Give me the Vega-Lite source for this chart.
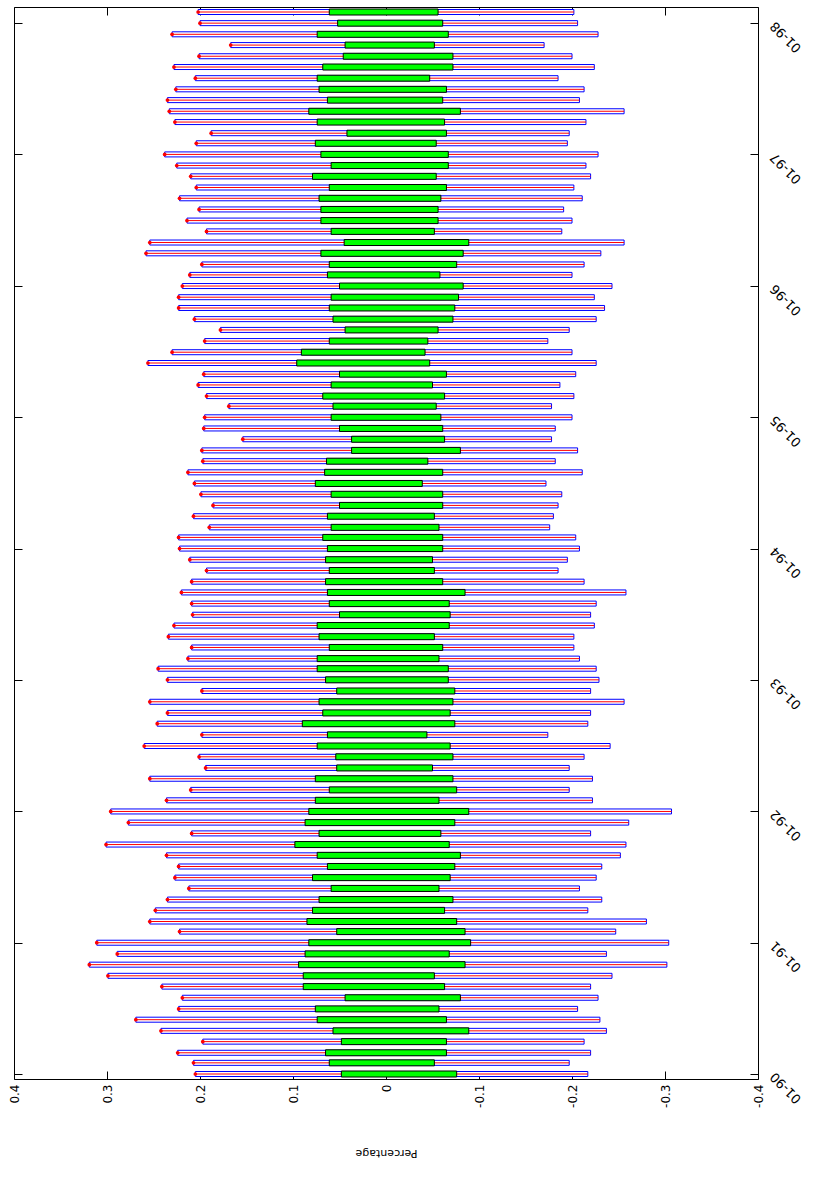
{
  "$schema": "https://vega.github.io/schema/vega-lite/v6.json",
  "width": 744,
  "height": 1072,
  "autosize": "none",
  "padding": {"left": 14, "top": 7, "right": 69, "bottom": 112},
  "background": "white",
  "config": {
    "view": {"stroke": "black", "strokeWidth": 1},
    "axis": {
      "labelFont": "DejaVu Sans",
      "titleFont": "DejaVu Sans",
      "labelColor": "black",
      "titleColor": "black",
      "tickColor": "black",
      "tickWidth": 1,
      "domain": false,
      "grid": false
    }
  },
  "data": {
    "values": [
      {"month": "1990-01-01", "hi": 0.205, "lo": -0.217, "ghi": 0.048, "glo": -0.076},
      {"month": "1990-02-01", "hi": 0.207, "lo": -0.197, "ghi": 0.061, "glo": -0.052},
      {"month": "1990-03-01", "hi": 0.224, "lo": -0.220, "ghi": 0.065, "glo": -0.065},
      {"month": "1990-04-01", "hi": 0.197, "lo": -0.213, "ghi": 0.048, "glo": -0.065},
      {"month": "1990-05-01", "hi": 0.242, "lo": -0.237, "ghi": 0.057, "glo": -0.089},
      {"month": "1990-06-01", "hi": 0.269, "lo": -0.230, "ghi": 0.074, "glo": -0.065},
      {"month": "1990-07-01", "hi": 0.223, "lo": -0.206, "ghi": 0.076, "glo": -0.057},
      {"month": "1990-08-01", "hi": 0.219, "lo": -0.228, "ghi": 0.044, "glo": -0.080},
      {"month": "1990-09-01", "hi": 0.241, "lo": -0.220, "ghi": 0.089, "glo": -0.063},
      {"month": "1990-10-01", "hi": 0.299, "lo": -0.243, "ghi": 0.089, "glo": -0.052},
      {"month": "1990-11-01", "hi": 0.319, "lo": -0.302, "ghi": 0.094, "glo": -0.085},
      {"month": "1990-12-01", "hi": 0.289, "lo": -0.237, "ghi": 0.087, "glo": -0.068},
      {"month": "1991-01-01", "hi": 0.311, "lo": -0.304, "ghi": 0.083, "glo": -0.091},
      {"month": "1991-02-01", "hi": 0.222, "lo": -0.247, "ghi": 0.053, "glo": -0.085},
      {"month": "1991-03-01", "hi": 0.254, "lo": -0.280, "ghi": 0.085, "glo": -0.076},
      {"month": "1991-04-01", "hi": 0.248, "lo": -0.217, "ghi": 0.079, "glo": -0.063},
      {"month": "1991-05-01", "hi": 0.235, "lo": -0.232, "ghi": 0.072, "glo": -0.072},
      {"month": "1991-06-01", "hi": 0.212, "lo": -0.208, "ghi": 0.059, "glo": -0.057},
      {"month": "1991-07-01", "hi": 0.227, "lo": -0.226, "ghi": 0.079, "glo": -0.069},
      {"month": "1991-08-01", "hi": 0.223, "lo": -0.232, "ghi": 0.063, "glo": -0.074},
      {"month": "1991-09-01", "hi": 0.236, "lo": -0.252, "ghi": 0.074, "glo": -0.080},
      {"month": "1991-10-01", "hi": 0.301, "lo": -0.258, "ghi": 0.098, "glo": -0.068},
      {"month": "1991-11-01", "hi": 0.209, "lo": -0.220, "ghi": 0.072, "glo": -0.059},
      {"month": "1991-12-01", "hi": 0.277, "lo": -0.261, "ghi": 0.087, "glo": -0.074},
      {"month": "1992-01-01", "hi": 0.296, "lo": -0.307, "ghi": 0.083, "glo": -0.089},
      {"month": "1992-02-01", "hi": 0.236, "lo": -0.222, "ghi": 0.076, "glo": -0.057},
      {"month": "1992-03-01", "hi": 0.210, "lo": -0.197, "ghi": 0.061, "glo": -0.076},
      {"month": "1992-04-01", "hi": 0.254, "lo": -0.222, "ghi": 0.076, "glo": -0.072},
      {"month": "1992-05-01", "hi": 0.194, "lo": -0.197, "ghi": 0.053, "glo": -0.050},
      {"month": "1992-06-01", "hi": 0.201, "lo": -0.213, "ghi": 0.054, "glo": -0.072},
      {"month": "1992-07-01", "hi": 0.260, "lo": -0.241, "ghi": 0.074, "glo": -0.069},
      {"month": "1992-08-01", "hi": 0.198, "lo": -0.174, "ghi": 0.063, "glo": -0.044},
      {"month": "1992-09-01", "hi": 0.246, "lo": -0.217, "ghi": 0.090, "glo": -0.074},
      {"month": "1992-10-01", "hi": 0.235, "lo": -0.220, "ghi": 0.068, "glo": -0.069},
      {"month": "1992-11-01", "hi": 0.254, "lo": -0.256, "ghi": 0.072, "glo": -0.072},
      {"month": "1992-12-01", "hi": 0.198, "lo": -0.220, "ghi": 0.053, "glo": -0.074},
      {"month": "1993-01-01", "hi": 0.235, "lo": -0.229, "ghi": 0.065, "glo": -0.067},
      {"month": "1993-02-01", "hi": 0.245, "lo": -0.226, "ghi": 0.074, "glo": -0.067},
      {"month": "1993-03-01", "hi": 0.213, "lo": -0.208, "ghi": 0.074, "glo": -0.057},
      {"month": "1993-04-01", "hi": 0.209, "lo": -0.202, "ghi": 0.061, "glo": -0.061},
      {"month": "1993-05-01", "hi": 0.234, "lo": -0.202, "ghi": 0.072, "glo": -0.052},
      {"month": "1993-06-01", "hi": 0.228, "lo": -0.224, "ghi": 0.074, "glo": -0.068},
      {"month": "1993-07-01", "hi": 0.208, "lo": -0.220, "ghi": 0.050, "glo": -0.069},
      {"month": "1993-08-01", "hi": 0.209, "lo": -0.226, "ghi": 0.061, "glo": -0.068},
      {"month": "1993-09-01", "hi": 0.220, "lo": -0.258, "ghi": 0.063, "glo": -0.085},
      {"month": "1993-10-01", "hi": 0.209, "lo": -0.213, "ghi": 0.065, "glo": -0.061},
      {"month": "1993-11-01", "hi": 0.193, "lo": -0.185, "ghi": 0.061, "glo": -0.052},
      {"month": "1993-12-01", "hi": 0.211, "lo": -0.195, "ghi": 0.065, "glo": -0.050},
      {"month": "1994-01-01", "hi": 0.222, "lo": -0.208, "ghi": 0.063, "glo": -0.061},
      {"month": "1994-02-01", "hi": 0.223, "lo": -0.204, "ghi": 0.068, "glo": -0.061},
      {"month": "1994-03-01", "hi": 0.190, "lo": -0.176, "ghi": 0.059, "glo": -0.057},
      {"month": "1994-04-01", "hi": 0.207, "lo": -0.180, "ghi": 0.063, "glo": -0.052},
      {"month": "1994-05-01", "hi": 0.186, "lo": -0.185, "ghi": 0.050, "glo": -0.061},
      {"month": "1994-06-01", "hi": 0.199, "lo": -0.189, "ghi": 0.059, "glo": -0.061},
      {"month": "1994-07-01", "hi": 0.206, "lo": -0.172, "ghi": 0.076, "glo": -0.039},
      {"month": "1994-08-01", "hi": 0.213, "lo": -0.211, "ghi": 0.066, "glo": -0.061},
      {"month": "1994-09-01", "hi": 0.197, "lo": -0.182, "ghi": 0.064, "glo": -0.045},
      {"month": "1994-10-01", "hi": 0.198, "lo": -0.206, "ghi": 0.037, "glo": -0.080},
      {"month": "1994-11-01", "hi": 0.154, "lo": -0.178, "ghi": 0.037, "glo": -0.063},
      {"month": "1994-12-01", "hi": 0.196, "lo": -0.182, "ghi": 0.050, "glo": -0.061},
      {"month": "1995-01-01", "hi": 0.195, "lo": -0.200, "ghi": 0.059, "glo": -0.059},
      {"month": "1995-02-01", "hi": 0.169, "lo": -0.178, "ghi": 0.057, "glo": -0.054},
      {"month": "1995-03-01", "hi": 0.193, "lo": -0.202, "ghi": 0.068, "glo": -0.063},
      {"month": "1995-04-01", "hi": 0.202, "lo": -0.187, "ghi": 0.059, "glo": -0.050},
      {"month": "1995-05-01", "hi": 0.196, "lo": -0.204, "ghi": 0.050, "glo": -0.065},
      {"month": "1995-06-01", "hi": 0.256, "lo": -0.226, "ghi": 0.096, "glo": -0.047},
      {"month": "1995-07-01", "hi": 0.230, "lo": -0.200, "ghi": 0.091, "glo": -0.042},
      {"month": "1995-08-01", "hi": 0.195, "lo": -0.174, "ghi": 0.061, "glo": -0.045},
      {"month": "1995-09-01", "hi": 0.178, "lo": -0.197, "ghi": 0.044, "glo": -0.056},
      {"month": "1995-10-01", "hi": 0.206, "lo": -0.226, "ghi": 0.057, "glo": -0.072},
      {"month": "1995-11-01", "hi": 0.223, "lo": -0.235, "ghi": 0.061, "glo": -0.074},
      {"month": "1995-12-01", "hi": 0.223, "lo": -0.224, "ghi": 0.059, "glo": -0.078},
      {"month": "1996-01-01", "hi": 0.219, "lo": -0.243, "ghi": 0.050, "glo": -0.083},
      {"month": "1996-02-01", "hi": 0.211, "lo": -0.200, "ghi": 0.063, "glo": -0.058},
      {"month": "1996-03-01", "hi": 0.198, "lo": -0.213, "ghi": 0.061, "glo": -0.076},
      {"month": "1996-04-01", "hi": 0.258, "lo": -0.231, "ghi": 0.070, "glo": -0.083},
      {"month": "1996-05-01", "hi": 0.254, "lo": -0.256, "ghi": 0.045, "glo": -0.089},
      {"month": "1996-06-01", "hi": 0.193, "lo": -0.189, "ghi": 0.059, "glo": -0.052},
      {"month": "1996-07-01", "hi": 0.214, "lo": -0.200, "ghi": 0.070, "glo": -0.056},
      {"month": "1996-08-01", "hi": 0.201, "lo": -0.191, "ghi": 0.070, "glo": -0.056},
      {"month": "1996-09-01", "hi": 0.222, "lo": -0.211, "ghi": 0.072, "glo": -0.059},
      {"month": "1996-10-01", "hi": 0.204, "lo": -0.202, "ghi": 0.061, "glo": -0.065},
      {"month": "1996-11-01", "hi": 0.210, "lo": -0.220, "ghi": 0.079, "glo": -0.054},
      {"month": "1996-12-01", "hi": 0.225, "lo": -0.215, "ghi": 0.059, "glo": -0.067},
      {"month": "1997-01-01", "hi": 0.238, "lo": -0.228, "ghi": 0.070, "glo": -0.067},
      {"month": "1997-02-01", "hi": 0.204, "lo": -0.195, "ghi": 0.076, "glo": -0.054},
      {"month": "1997-03-01", "hi": 0.188, "lo": -0.197, "ghi": 0.042, "glo": -0.065},
      {"month": "1997-04-01", "hi": 0.227, "lo": -0.215, "ghi": 0.074, "glo": -0.063},
      {"month": "1997-05-01", "hi": 0.233, "lo": -0.256, "ghi": 0.083, "glo": -0.080},
      {"month": "1997-06-01", "hi": 0.235, "lo": -0.208, "ghi": 0.063, "glo": -0.061},
      {"month": "1997-07-01", "hi": 0.226, "lo": -0.213, "ghi": 0.072, "glo": -0.065},
      {"month": "1997-08-01", "hi": 0.205, "lo": -0.185, "ghi": 0.074, "glo": -0.047},
      {"month": "1997-09-01", "hi": 0.228, "lo": -0.224, "ghi": 0.068, "glo": -0.072},
      {"month": "1997-10-01", "hi": 0.201, "lo": -0.200, "ghi": 0.046, "glo": -0.072},
      {"month": "1997-11-01", "hi": 0.167, "lo": -0.170, "ghi": 0.044, "glo": -0.052},
      {"month": "1997-12-01", "hi": 0.230, "lo": -0.228, "ghi": 0.074, "glo": -0.067},
      {"month": "1998-01-01", "hi": 0.200, "lo": -0.206, "ghi": 0.052, "glo": -0.061},
      {"month": "1998-02-01", "hi": 0.202, "lo": -0.202, "ghi": 0.061, "glo": -0.056}
    ]
  },
  "layer": [
    {
      "mark": {"type": "bar", "size": 5, "fill": "white", "stroke": "#0000ff", "strokeWidth": 1, "clip": true},
      "encoding": {
        "y": {
          "field": "month", "type": "temporal",
          "scale": {"type": "utc", "domain": [{"year": 1990, "month": 1, "date": 1, "utc": true}, {"year": 1998, "month": 2, "date": 1, "utc": true}], "nice": false},
          "axis": {
            "orient": "right",
            "values": [
              {"year": 1990, "month": 1, "date": 1, "utc": true},
              {"year": 1991, "month": 1, "date": 1, "utc": true},
              {"year": 1992, "month": 1, "date": 1, "utc": true},
              {"year": 1993, "month": 1, "date": 1, "utc": true},
              {"year": 1994, "month": 1, "date": 1, "utc": true},
              {"year": 1995, "month": 1, "date": 1, "utc": true},
              {"year": 1996, "month": 1, "date": 1, "utc": true},
              {"year": 1997, "month": 1, "date": 1, "utc": true},
              {"year": 1998, "month": 1, "date": 1, "utc": true}
            ],
            "labelExpr": "utcFormat(datum.value, '%m-%y')",
            "tickSize": -8,
            "labelAngle": 225, "labelAlign": "right", "labelBaseline": "middle",
            "labelPadding": 22, "labelFontSize": 13, "labelOverlap": false,
            "title": null
          }
        },
        "x": {
          "field": "hi", "type": "quantitative",
          "scale": {"domain": [-0.4, 0.4], "reverse": true, "nice": false, "zero": false},
          "axis": {
            "orient": "bottom",
            "values": [-0.4, -0.3, -0.2, -0.1, 0, 0.1, 0.2, 0.3, 0.4],
            "tickSize": -8,
            "labelAngle": -90, "labelPadding": 13, "labelFontSize": 12,
            "labelExpr": "datum.value == 0 ? '0' : (datum.value < 0 ? '-' + format(-datum.value, '.1f') : format(datum.value, '.1f'))",
            "title": "Percentage", "titleAngle": 180, "titleFontSize": 11, "titleFontWeight": "normal",
            "titleBaseline": "middle", "titleY": 73
          }
        },
        "x2": {"field": "lo"}
      }
    },
    {
      "mark": {"type": "rule", "color": "#ff0000", "strokeWidth": 1, "clip": true},
      "encoding": {
        "y": {
          "field": "month", "type": "temporal",
          "axis": {
            "orient": "left",
            "values": [
              {"year": 1990, "month": 1, "date": 1, "utc": true},
              {"year": 1991, "month": 1, "date": 1, "utc": true},
              {"year": 1992, "month": 1, "date": 1, "utc": true},
              {"year": 1993, "month": 1, "date": 1, "utc": true},
              {"year": 1994, "month": 1, "date": 1, "utc": true},
              {"year": 1995, "month": 1, "date": 1, "utc": true},
              {"year": 1996, "month": 1, "date": 1, "utc": true},
              {"year": 1997, "month": 1, "date": 1, "utc": true},
              {"year": 1998, "month": 1, "date": 1, "utc": true}
            ],
            "tickSize": -8, "labels": false, "title": null
          }
        },
        "x": {
          "field": "hi", "type": "quantitative",
          "axis": {
            "orient": "top",
            "values": [-0.4, -0.3, -0.2, -0.1, 0, 0.1, 0.2, 0.3, 0.4],
            "tickSize": -8, "labels": false, "title": null
          }
        },
        "x2": {"field": "lo"}
      }
    },
    {
      "mark": {"type": "bar", "size": 6, "fill": "#00ff00", "stroke": "black", "strokeWidth": 1, "clip": true},
      "encoding": {
        "y": {"field": "month", "type": "temporal", "axis": null},
        "x": {"field": "ghi", "type": "quantitative", "axis": null},
        "x2": {"field": "glo"}
      }
    },
    {
      "mark": {"type": "point", "filled": true, "shape": "circle", "color": "#ff0000", "size": 14, "opacity": 1, "clip": true},
      "encoding": {
        "y": {"field": "month", "type": "temporal", "axis": null},
        "x": {"field": "hi", "type": "quantitative", "axis": null}
      }
    }
  ],
  "resolve": {"axis": {"x": "independent", "y": "independent"}}
}
